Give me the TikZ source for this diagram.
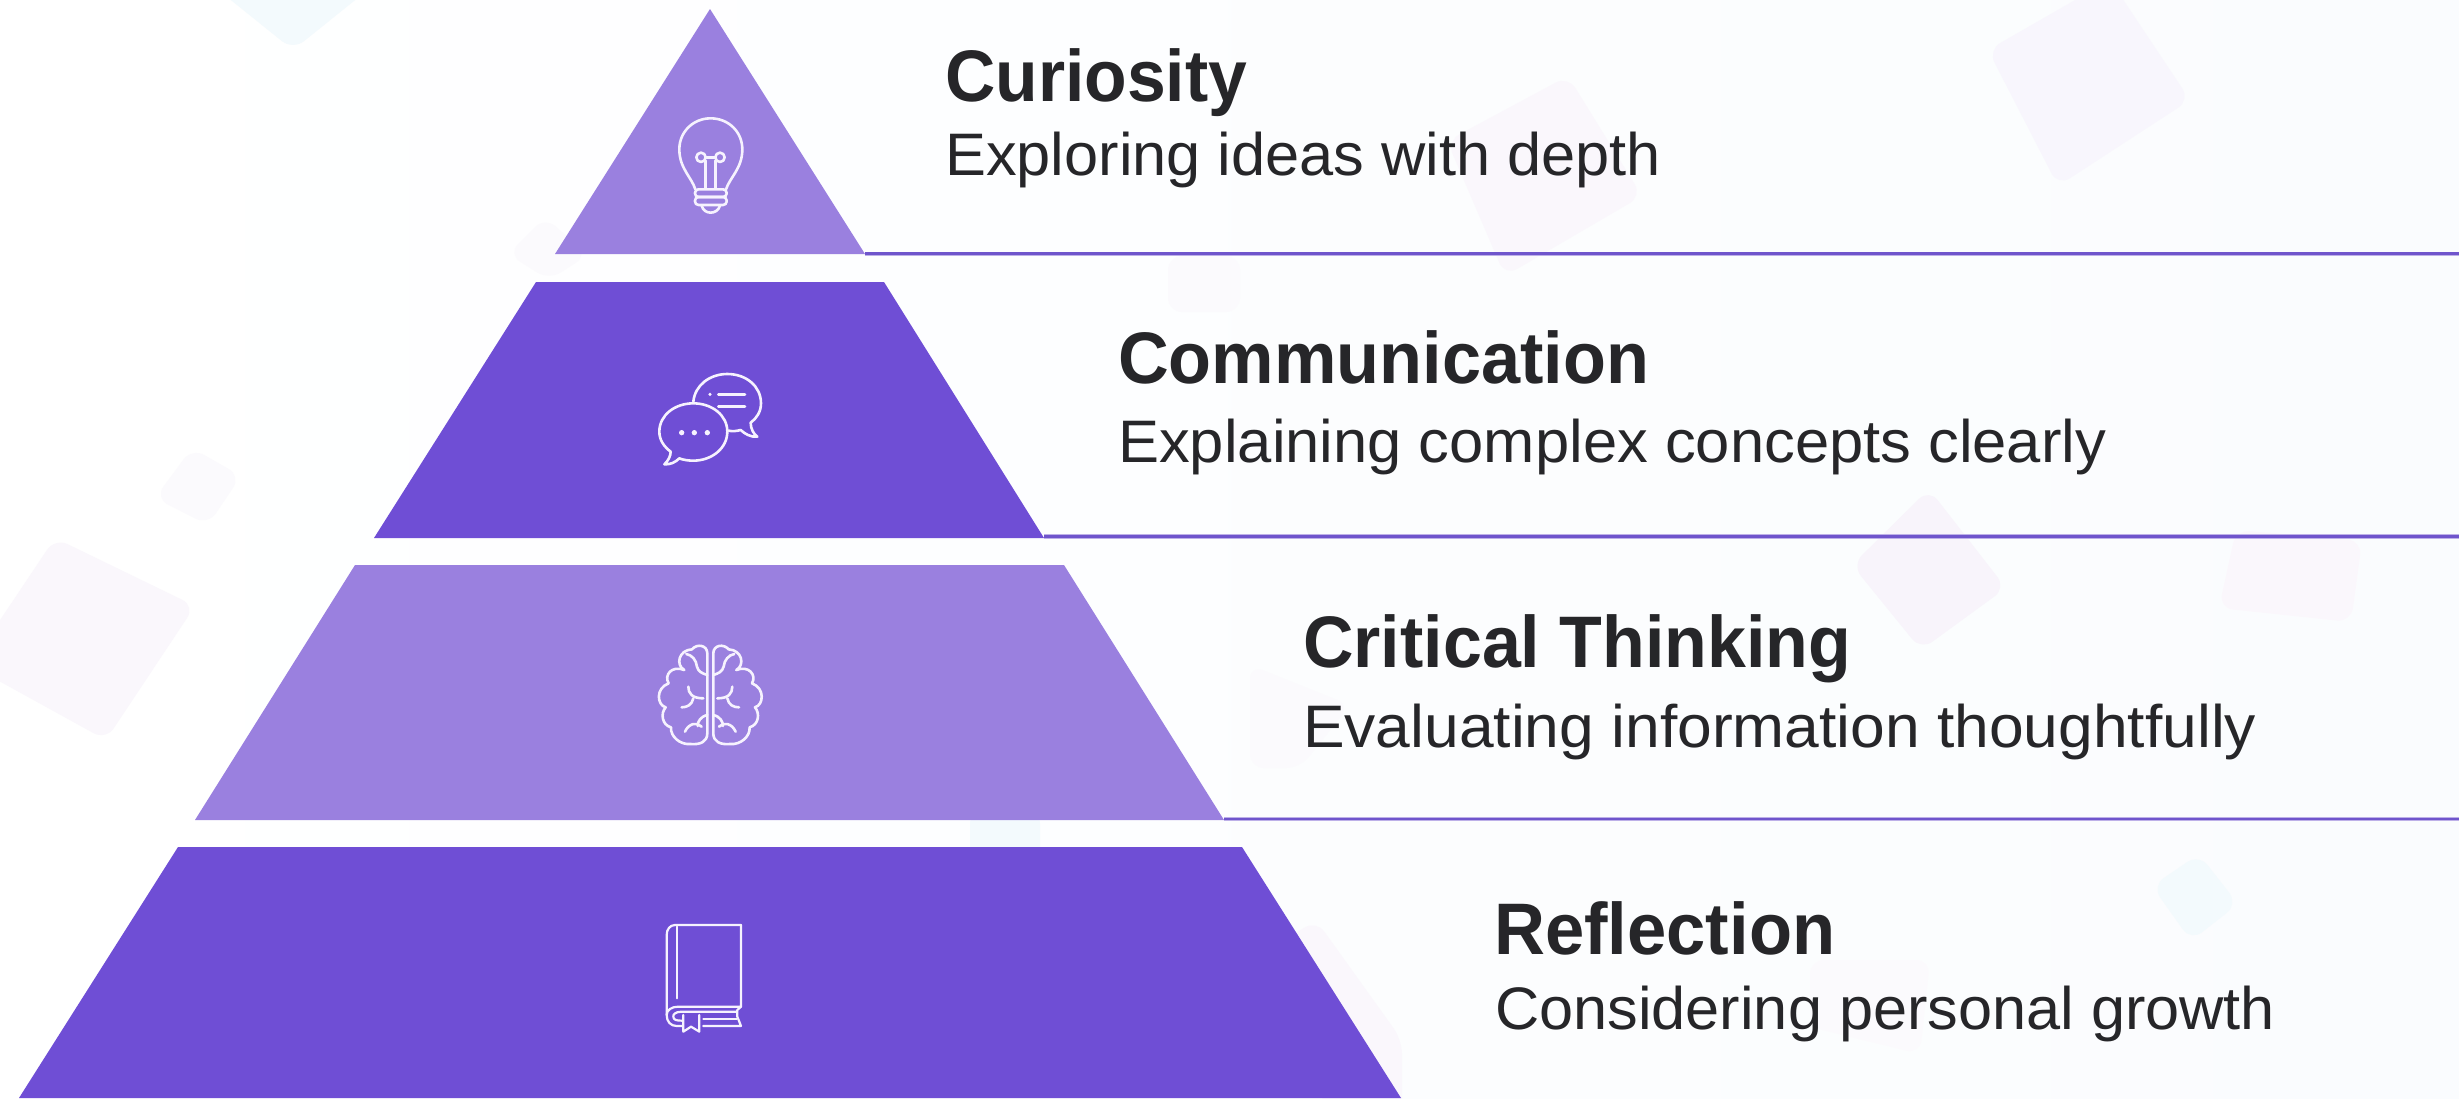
\documentclass[tikz,border=0pt]{standalone}
\usepackage{graphicx}
\usepackage{fontspec}
\setmainfont{Liberation Sans}
\definecolor{tierdark}{HTML}{6F4ED5}
\definecolor{tierlight}{HTML}{9A80DF}
\definecolor{rulecol}{HTML}{6F55CC}
\definecolor{rulehalo}{HTML}{BDB0E8}
\definecolor{inkcol}{HTML}{262629}
\definecolor{iconcol}{HTML}{F6F2FE}
\definecolor{sqA}{HTML}{FAF7FC}
\definecolor{sqB}{HTML}{F8F6FD}
\definecolor{sqC}{HTML}{F8F4FB}
\definecolor{sqD}{HTML}{F3FAFD}
\definecolor{sqE}{HTML}{FBFAFD}
\definecolor{bgR}{HTML}{FAFCFE}
\newcommand{\fitx}[2]{\resizebox{#1}{\height}{#2}}
\newcommand{\brainhalf}{%
  \draw[iconline] (9,100) .. controls (9,75) and (40,70) .. (55,88)
    .. controls (95,90) and (105,135) .. (78,150)
    .. controls (115,135) and (140,165) .. (125,190)
    .. controls (165,205) and (160,255) .. (134,262)
    .. controls (150,280) and (145,315) .. (118,322)
    .. controls (120,350) and (90,375) .. (60,372)
    .. controls (30,375) and (9,365) .. (9,340) -- cycle;
  \draw[iconline] (9,165) .. controls (25,160) and (36,155) .. (40,140) .. controls (42,120) and (55,105) .. (72,102);
  \draw[iconline] (66,200) .. controls (66,220) and (55,235) .. (21,235);
  \draw[iconline] (86,262) .. controls (70,262) and (55,255) .. (51,235);
  \draw[iconline] (9,285) .. controls (30,290) and (38,305) .. (38,318);
  \draw[iconline] (26,320) .. controls (40,305) and (65,310) .. (76,335);
}
\tikzset{
  tier/.style={draw=none},
  deco/.style={rounded corners=14pt},
  rulerhalo/.style={draw=rulehalo,line width=4.4pt},
  rulerline/.style={draw=rulecol,line width=2.6pt},
  headtext/.style={anchor=base west,inner sep=0pt,text=inkcol,font=\fontsize{73}{90}\selectfont\bfseries},
  subtext/.style={anchor=base west,inner sep=0pt,text=inkcol,font=\fontsize{60}{80}\selectfont},
  iconline/.style={draw=iconcol,line width=2.6pt,line cap=round,line join=round},
  bookline/.style={iconline,line width=2.2pt},
  icondot/.style={fill=iconcol,draw=none}
}
\begin{document}
\begin{tikzpicture}[x=1pt,y=-1pt]
\useasboundingbox (0,0) rectangle (2459,1098);
\clip (0,0) rectangle (2459,1098);
\shade[left color=white,right color=bgR] (0,0) rectangle (2459,1098);
% faint decorative squares
\fill[sqD,deco] (156,-60) -- (430,-60) -- (293,50) -- cycle;
\fill[sqA,deco] (55,538) -- (195,606) -- (106,740) -- (-30,665) -- cycle;
\fill[sqE,deco] (192,448) -- (241,476) -- (208,525) -- (155,498) -- cycle;
\fill[sqE,deco] (545,217) -- (588,255) -- (549,280) -- (508,254) -- cycle;
\fill[sqB,deco] (1988,50) -- (2110,-20) -- (2190,100) -- (2058,186) -- cycle;
\fill[sqA,deco] (1447,141) -- (1568,76) -- (1642,196) -- (1505,276) -- cycle;
\fill[sqC,deco] (1929,489) -- (2006,588) -- (1921,650) -- (1852,565) -- cycle;
\fill[sqA,deco] (2236,530) -- (2362,541) -- (2351,622) -- (2219,608) -- cycle;
\fill[sqD,deco] (2199,854) -- (2238,904) -- (2191,941) -- (2152,886) -- cycle;
\fill[sqD,deco] (970,810) -- (1040,810) -- (1040,860) -- (970,860) -- cycle;
\fill[sqA,deco] (1270,950) -- (1316,920) -- (1402,1040) -- (1402,1120) -- (1330,1120) -- cycle;
\fill[sqE,deco] (1168,256) -- (1240,256) -- (1240,312) -- (1168,312) -- cycle;
\fill[sqE,deco] (1250,665) -- (1350,705) -- (1300,768) -- (1250,768) -- cycle;
\fill[sqE,deco] (1810,960) -- (1930,960) -- (1920,1054) -- (1810,1027) -- cycle;
% pyramid tiers
\coordinate (t1apex) at (710,9);
\coordinate (t1l) at (555,254);
\coordinate (t1r) at (865,254);
\coordinate (t2tl) at (536,282);
\coordinate (t2tr) at (884,282);
\coordinate (t2l) at (374,538);
\coordinate (t2r) at (1044,538);
\coordinate (t3tl) at (355,565);
\coordinate (t3tr) at (1064,565);
\coordinate (t3l) at (195,820);
\coordinate (t3r) at (1224,820);
\coordinate (t4tl) at (178,847);
\coordinate (t4tr) at (1242,847);
\coordinate (t4l) at (19,1098);
\coordinate (t4r) at (1401,1098);
\fill[tierlight,tier] (t1apex) -- (t1r) -- (t1l) -- cycle;
\fill[tierdark,tier] (t2tl) -- (t2tr) -- (t2r) -- (t2l) -- cycle;
\fill[tierlight,tier] (t3tl) -- (t3tr) -- (t3r) -- (t3l) -- cycle;
\fill[tierdark,tier] (t4tl) -- (t4tr) -- (t4r) -- (t4l) -- cycle;
% rules
\coordinate (b1) at (865,253.7);
\coordinate (b2) at (1044,536.5);
\coordinate (b3) at (1224,819);
\coordinate (e1) at (2459,253.7);
\coordinate (e2) at (2459,536.5);
\coordinate (e3) at (2459,819);
\draw[rulerhalo] (b1) -- (e1);
\draw[rulerhalo] (b2) -- (e2);
\draw[rulerhalo] (b3) -- (e3);
\draw[rulerline] (b1) -- (e1);
\draw[rulerline] (b2) -- (e2);
\draw[rulerline] (b3) -- (e3);
% text
\node[headtext] (h1) at (945,101.5) {\fitx{302pt}{Curiosity}};
\node[subtext] (s1) at (945,175) {\fitx{716pt}{Exploring ideas with depth}};
\node[headtext] (h2) at (1118,383) {\fitx{531pt}{Communication}};
\node[subtext] (s2) at (1118,462) {\fitx{988pt}{Explaining complex concepts clearly}};
\node[headtext] (h3) at (1303,667) {\fitx{548pt}{Critical Thinking}};
\node[subtext] (s3) at (1303,747) {\fitx{953pt}{Evaluating information thoughtfully}};
\node[headtext] (h4) at (1494,954) {\fitx{341pt}{Reflection}};
\node[subtext] (s4) at (1495,1029) {\fitx{780pt}{Considering personal growth}};
% bulb
\begin{scope}[shift={(620,90)},x=0.3333pt,y=-0.3333pt]
\draw[iconline] (226,298) .. controls (215,262) and (178,235) .. (178,178)
  .. controls (178,125) and (220,85) .. (272,85)
  .. controls (325,85) and (367,125) .. (367,178)
  .. controls (367,235) and (330,262) .. (318,298);
\draw[iconline,rounded corners=3.5pt] (225,298) rectangle (320,321);
\draw[iconline,rounded corners=3.5pt] (225,321) rectangle (320,345);
\draw[iconline] (245,347) .. controls (252,375) and (292,375) .. (300,347);
\draw[iconline] (243,202) circle (14);
\draw[iconline] (300,202) circle (14);
\draw[iconline] (257,202) -- (286,202);
\draw[iconline] (257,212) -- (257,296);
\draw[iconline] (286,212) -- (286,296);
\end{scope}
% speech bubbles
\begin{scope}[shift={(630,350)},x=0.3333pt,y=-0.3333pt]
\draw[iconline] (190,155) .. controls (195,105) and (240,72) .. (292,72)
  .. controls (350,72) and (393,110) .. (393,160)
  .. controls (393,185) and (380,205) .. (362,218)
  .. controls (362,235) and (370,252) .. (382,260)
  .. controls (362,262) and (345,252) .. (332,240)
  .. controls (320,243) and (308,245) .. (296,242);
\draw[iconline] (190,160) .. controls (245,160) and (292,195) .. (292,245)
  .. controls (292,295) and (245,332) .. (190,332)
  .. controls (175,332) and (160,330) .. (148,325)
  .. controls (135,338) and (120,344) .. (103,343)
  .. controls (115,332) and (122,318) .. (122,305)
  .. controls (102,290) and (88,270) .. (88,245)
  .. controls (88,195) and (135,160) .. (190,160) -- cycle;
\fill[icondot] (240,133) circle (5);
\draw[iconline] (265,133) -- (345,133);
\draw[iconline] (265,170) -- (345,170);
\fill[icondot] (155,248) circle (8);
\fill[icondot] (193,248) circle (8);
\fill[icondot] (232,248) circle (8);
\end{scope}
% brain
\begin{scope}[shift={(710.3,620)},x=0.3333pt,y=-0.3333pt]
\brainhalf
\end{scope}
\begin{scope}[shift={(710.3,620)},x=-0.3333pt,y=-0.3333pt]
\brainhalf
\end{scope}
% book
\begin{scope}[shift={(640,900)},x=0.3333pt,y=-0.3333pt]
\draw[bookline] (303,75) -- (105,75) .. controls (90,75) and (80,88) .. (80,105) -- (80,345)
  .. controls (80,365) and (92,378) .. (110,378) -- (125,378);
\draw[bookline] (303,75) -- (303,320) -- (115,320) .. controls (95,320) and (80,330) .. (80,345);
\draw[bookline] (112,80) -- (112,295);
\draw[bookline] (290,335) -- (125,335) .. controls (105,335) and (98,345) .. (100,350) .. controls (100,360) and (110,362) .. (125,362);
\draw[bookline] (190,358) -- (290,358);
\draw[bookline] (190,378) -- (303,378) -- (292,350) -- (292,330) -- (303,320);
\draw[bookline] (130,345) -- (130,395) -- (153,380) -- (178,395) -- (178,345);
\end{scope}
\end{tikzpicture}
\end{document}
